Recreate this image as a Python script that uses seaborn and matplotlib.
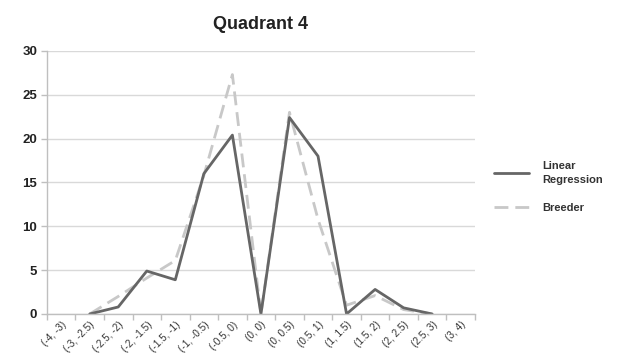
import numpy as np
import pandas as pd
import matplotlib
matplotlib.use("Agg")
import matplotlib.pyplot as plt
import seaborn as sns

# data
bins = ["(-4, -3)", "(-3, -2.5)", "(-2.5, -2)", "(-2, -1.5)", "(-1.5, -1)",
        "(-1, -0.5)", "(-0.5, 0)", "(0, 0)", "(0, 0.5)", "(0.5, 1)",
        "(1, 1.5)", "(1.5, 2)", "(2, 2.5)", "(2.5, 3)", "(3, 4)"]
linear_regression = [np.nan, 0, 0.8, 4.9, 3.9, 16.0, 20.4, 0, 22.4, 18.0, 0, 2.8, 0.7, 0, np.nan]
breeder = [np.nan, 0, 2.0, 4.1, 6.1, 15.8, 27.3, 0, 23.0, 10.8, 1.0, 2.1, 0.5, 0, np.nan]
series_names = ["Linear\nRegression", "Breeder"]

pos = np.arange(len(bins))
df = pd.DataFrame({"pos": pos, series_names[0]: linear_regression, series_names[1]: breeder})

sns.set_style("white")
plt.rcParams["font.family"] = ["Liberation Sans", "DejaVu Sans"]

fig = plt.figure(figsize=(6.25, 3.56), dpi=100)
ax = fig.add_axes([0.075, 0.118, 0.685, 0.739])

sns.lineplot(data=df, x="pos", y=series_names[1], ax=ax, color="#c8c8c8",
             linewidth=2, linestyle=(0, (5, 2.5)), label=series_names[1])
sns.lineplot(data=df, x="pos", y=series_names[0], ax=ax, color="#666666",
             linewidth=2, label=series_names[0])

ax.set_xlim(-0.5, len(bins) - 0.5)
ax.set_ylim(0, 30)
ax.set_yticks(range(0, 31, 5))
ax.yaxis.grid(True, color="#d9d9d9", linewidth=1)
ax.set_axisbelow(True)

ax.set_xticks(pos)
ax.set_xticklabels(bins, rotation=45, ha="right", rotation_mode="anchor",
                   fontsize=7.2, color="#333333")
ax.set_xticks(np.arange(-0.5, len(bins), 1), minor=True)
ax.tick_params(axis="x", which="major", length=0, pad=4)
ax.tick_params(axis="x", which="minor", length=4, color="#bfbfbf", width=1,
               direction="out", bottom=True)
ax.tick_params(axis="y", length=4, color="#bfbfbf", width=1, direction="out",
               labelsize=9.5, labelcolor="#222222", pad=3, left=True)
for lab in ax.get_yticklabels():
    lab.set_fontweight("bold")

ax.set_xlabel("")
ax.set_ylabel("")
for side in ["top", "right"]:
    ax.spines[side].set_visible(False)
ax.spines["left"].set_color("#bfbfbf")
ax.spines["bottom"].set_color("#bfbfbf")
ax.spines["left"].set_linewidth(1)
ax.spines["bottom"].set_linewidth(1)

ax.set_title("Quadrant 4", fontsize=13, fontweight="bold", color="#222222", pad=16)

handles, labels = ax.get_legend_handles_labels()
order = [labels.index(series_names[0]), labels.index(series_names[1])]
leg = ax.legend([handles[i] for i in order], [labels[i] for i in order],
                loc="upper left", bbox_to_anchor=(1.02, 0.62), frameon=False,
                handlelength=3.2, labelspacing=1.6, fontsize=8, handletextpad=1.2)
for t in leg.get_texts():
    t.set_fontweight("bold")
    t.set_color("#333333")
    t.set_linespacing(1.5)

fig.savefig("out.png", dpi=100)
